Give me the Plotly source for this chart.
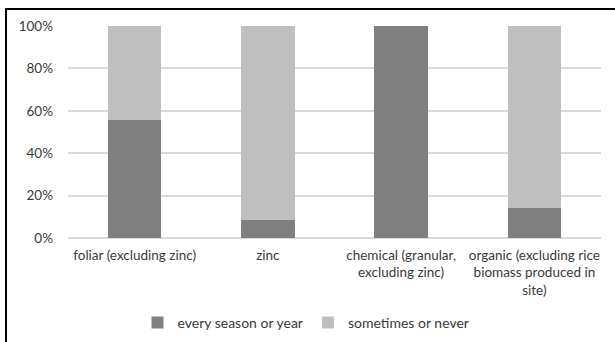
import plotly.graph_objects as go

categories = [
    "foliar (excluding zinc)",
    "zinc",
    "chemical (granular,<br>excluding zinc)",
    "organic (excluding rice<br>biomass produced in<br>site)",
]
every_season = [55.6, 8.3, 100.0, 14.3]
sometimes_never = [44.4, 91.7, 0.0, 85.7]
y_ticks = [0, 20, 40, 60, 80, 100]
y_tick_labels = ["0%", "20%", "40%", "60%", "80%", "100%"]

FONT = "Lato"
TEXT = "#3a3a3a"

fig = go.Figure()
fig.add_trace(go.Bar(
    x=categories, y=every_season, name="every season or year",
    marker=dict(color="#808080", line=dict(width=0)),
))
fig.add_trace(go.Bar(
    x=categories, y=sometimes_never, name="sometimes or never",
    marker=dict(color="#bfbfbf", line=dict(width=0)),
))

W, H = 615, 342
L, R, T, B = 68, 14, 26, 104
pw, ph = W - L - R, H - T - B


def px_x(x):
    return (x - L) / pw


def px_y(y):
    return (H - B - y) / ph


# frame edges along the left and top of the chart
frame = dict(type="line", xref="paper", yref="paper",
             line=dict(color="black", width=2), layer="below")
fig.add_shape(x0=px_x(6), x1=px_x(6), y0=px_y(350), y1=px_y(8.5), **frame)
fig.add_shape(x0=px_x(5), x1=px_x(620), y0=px_y(9), y1=px_y(9), **frame)

fig.update_layout(
    width=W, height=H,
    margin=dict(l=L, r=R, t=T, b=B, pad=0, autoexpand=False),
    barmode="stack", bargap=0.6,
    plot_bgcolor="white", paper_bgcolor="white",
    font=dict(family=FONT, size=13, color=TEXT),
    showlegend=True,
    legend=dict(
        orientation="h", traceorder="normal",
        xref="container", yref="container",
        x=306 / W, xanchor="center",
        y=(H - 323) / H, yanchor="middle",
        font=dict(family=FONT, size=14, color=TEXT),
        itemwidth=30, itemsizing="constant",
    ),
    xaxis=dict(
        showgrid=False, showline=False, zeroline=False, ticks="",
        tickfont=dict(family=FONT, size=13.5, color=TEXT),
        ticklabelstandoff=7, automargin=False,
    ),
    yaxis=dict(
        range=[0, 100], tickvals=y_ticks, ticktext=y_tick_labels,
        showgrid=True, gridcolor="#d9d9d9", gridwidth=1.5,
        zeroline=True, zerolinecolor="#d9d9d9", zerolinewidth=1.5,
        showline=False, ticks="",
        tickfont=dict(family=FONT, size=13.5, color=TEXT),
        ticklabelstandoff=14, automargin=False,
    ),
)

fig.write_html("out.html")
